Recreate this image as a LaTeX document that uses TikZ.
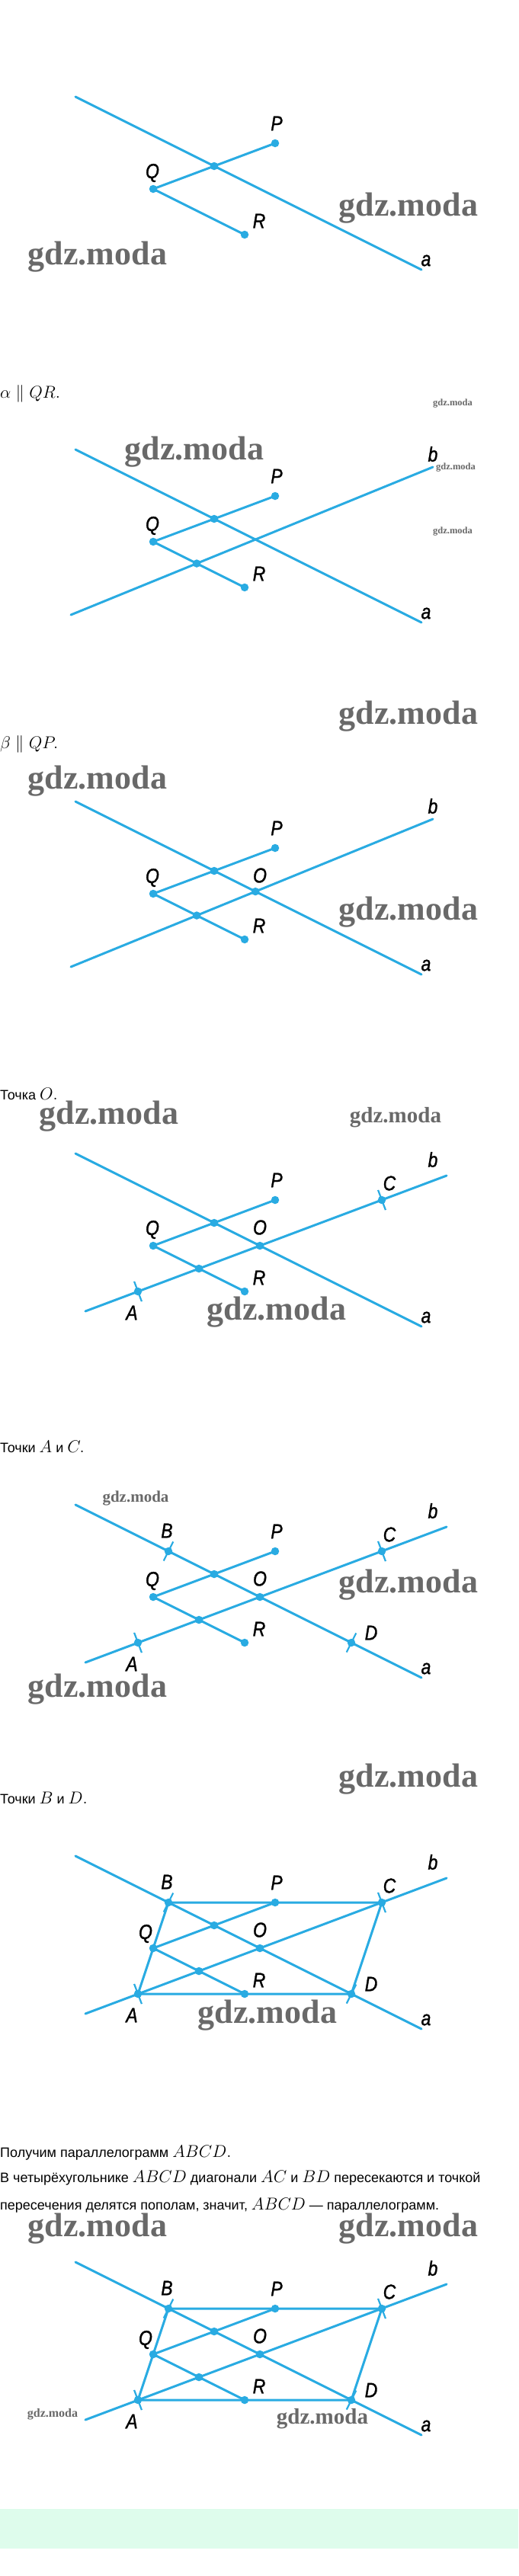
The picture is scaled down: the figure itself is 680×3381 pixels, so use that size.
\documentclass[tikz,border=0pt]{standalone}
\usepackage[no-math]{fontspec}
\setmainfont{Liberation Sans}
\newfontfamily\lblfont{Liberation Sans}[FakeStretch=0.85, FakeBold=1.2]
\newfontfamily\wmfont{Liberation Serif}
\usepackage{tikz}
\usetikzlibrary{calc}

\definecolor{lineblue}{RGB}{41,171,226}
\definecolor{mintband}{RGB}{222,252,236}
\definecolor{wmgray}{RGB}{105,105,105}

\tikzstyle{ln} = [draw=lineblue, line width=3pt, line cap=round]
\tikzstyle{tickmark} = [draw=lineblue, line width=2.2pt]
\tikzstyle{dot} = [circle, fill=lineblue, inner sep=0pt, minimum size=10.5pt]
\tikzstyle{lbl} = [inner sep=0pt, font=\lblfont\itshape\fontsize{27}{27}\selectfont]
\tikzstyle{txt} = [anchor=base west, inner sep=0pt, font=\fontsize{18}{22}\selectfont]
\tikzstyle{wm} = [inner sep=0pt, text=wmgray, font=\wmfont\bfseries\fontsize{44}{44}\selectfont]
\tikzstyle{wmsmall} = [wm, font=\wmfont\bfseries\fontsize{12.5}{12.5}\selectfont]

\newcommand{\mth}[1]{\scalebox{1.09}{\fontsize{20.74}{24}\selectfont$#1$}}
\newcommand{\figpoints}{%
  \coordinate (A) at (181,308);
  \coordinate (B) at (221,188);
  \coordinate (C) at (501,188);
  \coordinate (D) at (461,308);
  \coordinate (Q) at (201,248);
  \coordinate (P) at (361,188);
  \coordinate (R) at (321,308);
  \coordinate (a1) at (99,127);
  \coordinate (a2) at (553,354);
}

\begin{document}
\begin{tikzpicture}[x=1pt, y=-1pt]
\useasboundingbox (0,0) rectangle (680,3381);
\fill [white] (0,0) rectangle (680,3381);

% step 1
\begin{scope}
\figpoints
\coordinate (E) at (intersection of a1--a2 and Q--P);
\draw [ln] (a1) -- (a2);
\draw [ln] (P) -- (Q) -- (R);
\node [dot] (dP) at (P) {};
\node [dot] (dQ) at (Q) {};
\node [dot] (dR) at (R) {};
\node [dot] (dE) at (E) {};
\node [lbl] (lP) at (363,162) {P};
\node [lbl] (lQ) at (200,227) {Q};
\node [lbl] (lR) at (340,290) {R};
\node [lbl] (la) at (559,342) {a};
\end{scope}

% step 2
\begin{scope}[shift={(0,463)}]
\figpoints
\coordinate (b1) at (93,344);
\coordinate (b2) at (568,150);
\coordinate (E) at (intersection of a1--a2 and Q--P);
\coordinate (F) at (intersection of b1--b2 and Q--R);
\draw [ln] (a1) -- (a2);
\draw [ln] (b1) -- (b2);
\draw [ln] (P) -- (Q) -- (R);
\node [dot] (dP) at (P) {};
\node [dot] (dQ) at (Q) {};
\node [dot] (dR) at (R) {};
\node [dot] (dE) at (E) {};
\node [dot] (dF) at (F) {};
\node [lbl] (lP) at (363,162) {P};
\node [lbl] (lQ) at (200,227) {Q};
\node [lbl] (lR) at (340,290) {R};
\node [lbl] (la) at (559,342) {a};
\node [lbl] (lb) at (568,133) {b};
\end{scope}

% step 3
\begin{scope}[shift={(0,925)}]
\figpoints
\coordinate (b1) at (93,344);
\coordinate (b2) at (568,150);
\coordinate (E) at (intersection of a1--a2 and Q--P);
\coordinate (F) at (intersection of b1--b2 and Q--R);
\coordinate (O) at (intersection of a1--a2 and b1--b2);
\draw [ln] (a1) -- (a2);
\draw [ln] (b1) -- (b2);
\draw [ln] (P) -- (Q) -- (R);
\node [dot] (dP) at (P) {};
\node [dot] (dQ) at (Q) {};
\node [dot] (dR) at (R) {};
\node [dot] (dE) at (E) {};
\node [dot] (dF) at (F) {};
\node [dot] (dO) at (O) {};
\node [lbl] (lP) at (363,162) {P};
\node [lbl] (lQ) at (200,227) {Q};
\node [lbl] (lO) at (341,224) {O};
\node [lbl] (lR) at (340,290) {R};
\node [lbl] (la) at (559,342) {a};
\node [lbl] (lb) at (568,133) {b};
\end{scope}

% step 4
\begin{scope}[shift={(0,1387)}]
\figpoints
\coordinate (b1) at (112,334);
\coordinate (b2) at (586,156);
\coordinate (E) at (intersection of a1--a2 and Q--P);
\coordinate (F) at (intersection of b1--b2 and Q--R);
\coordinate (O) at (intersection of a1--a2 and b1--b2);
\draw [ln] (a1) -- (a2);
\draw [ln] (b1) -- (b2);
\draw [ln] (P) -- (Q) -- (R);
\draw [tickmark] ($(A)!14pt!90:(b2)$) -- ($(A)!14pt!-90:(b2)$);
\draw [tickmark] ($(C)!14pt!90:(b2)$) -- ($(C)!14pt!-90:(b2)$);
\node [dot] (dP) at (P) {};
\node [dot] (dQ) at (Q) {};
\node [dot] (dR) at (R) {};
\node [dot] (dE) at (E) {};
\node [dot] (dF) at (F) {};
\node [dot] (dO) at (O) {};
\node [dot] (dA) at (A) {};
\node [dot] (dC) at (C) {};
\node [lbl] (lP) at (363,162) {P};
\node [lbl] (lQ) at (200,227) {Q};
\node [lbl] (lO) at (341,224) {O};
\node [lbl] (lR) at (340,290) {R};
\node [lbl] (lA) at (173,336) {A};
\node [lbl] (lC) at (511,166) {C};
\node [lbl] (la) at (559,342) {a};
\node [lbl] (lb) at (568,135) {b};
\end{scope}

% step 5
\begin{scope}[shift={(0,1848)}]
\figpoints
\coordinate (b1) at (112,334);
\coordinate (b2) at (586,156);
\coordinate (E) at (intersection of a1--a2 and Q--P);
\coordinate (F) at (intersection of b1--b2 and Q--R);
\coordinate (O) at (intersection of a1--a2 and b1--b2);
\draw [ln] (a1) -- (a2);
\draw [ln] (b1) -- (b2);
\draw [ln] (P) -- (Q) -- (R);
\draw [tickmark] ($(A)!14pt!90:(b2)$) -- ($(A)!14pt!-90:(b2)$);
\draw [tickmark] ($(C)!14pt!90:(b2)$) -- ($(C)!14pt!-90:(b2)$);
\draw [tickmark] ($(B)!14pt!90:(a2)$) -- ($(B)!14pt!-90:(a2)$);
\draw [tickmark] ($(D)!14pt!90:(a2)$) -- ($(D)!14pt!-90:(a2)$);
\node [dot] (dP) at (P) {};
\node [dot] (dQ) at (Q) {};
\node [dot] (dR) at (R) {};
\node [dot] (dE) at (E) {};
\node [dot] (dF) at (F) {};
\node [dot] (dO) at (O) {};
\node [dot] (dA) at (A) {};
\node [dot] (dB) at (B) {};
\node [dot] (dC) at (C) {};
\node [dot] (dD) at (D) {};
\node [lbl] (lP) at (363,162) {P};
\node [lbl] (lQ) at (200,227) {Q};
\node [lbl] (lO) at (341,224) {O};
\node [lbl] (lR) at (340,290) {R};
\node [lbl] (lA) at (173,336) {A};
\node [lbl] (lB) at (219,161) {B};
\node [lbl] (lC) at (511,166) {C};
\node [lbl] (lD) at (487,295) {D};
\node [lbl] (la) at (559,342) {a};
\node [lbl] (lb) at (568,135) {b};
\end{scope}

% step 6 and 7
\foreach \dy in {2309,2842}{
\begin{scope}[shift={(0,\dy)}]
\figpoints
\coordinate (b1) at (112,334);
\coordinate (b2) at (586,156);
\coordinate (E) at (intersection of a1--a2 and Q--P);
\coordinate (F) at (intersection of b1--b2 and Q--R);
\coordinate (O) at (intersection of a1--a2 and b1--b2);
\draw [ln] (a1) -- (a2);
\draw [ln] (b1) -- (b2);
\draw [ln] (P) -- (Q) -- (R);
\draw [ln] (A) -- (B) -- (C) -- (D) -- cycle;
\draw [tickmark] ($(A)!14pt!90:(b2)$) -- ($(A)!14pt!-90:(b2)$);
\draw [tickmark] ($(C)!14pt!90:(b2)$) -- ($(C)!14pt!-90:(b2)$);
\draw [tickmark] ($(B)!14pt!90:(a2)$) -- ($(B)!14pt!-90:(a2)$);
\draw [tickmark] ($(D)!14pt!90:(a2)$) -- ($(D)!14pt!-90:(a2)$);
\node [dot] (dP) at (P) {};
\node [dot] (dQ) at (Q) {};
\node [dot] (dR) at (R) {};
\node [dot] (dE) at (E) {};
\node [dot] (dF) at (F) {};
\node [dot] (dO) at (O) {};
\node [dot] (dA) at (A) {};
\node [dot] (dB) at (B) {};
\node [dot] (dC) at (C) {};
\node [dot] (dD) at (D) {};
\node [lbl] (lP) at (363,162) {P};
\node [lbl] (lQ) at (191,229) {Q};
\node [lbl] (lO) at (341,224) {O};
\node [lbl] (lR) at (340,290) {R};
\node [lbl] (lA) at (173,336) {A};
\node [lbl] (lB) at (219,161) {B};
\node [lbl] (lC) at (511,166) {C};
\node [lbl] (lD) at (487,295) {D};
\node [lbl] (la) at (559,342) {a};
\node [lbl] (lb) at (568,135) {b};
\end{scope}
}

\node [txt] (t1) at (0,522) {\mth{\alpha \parallel QR.}};
\node [txt] (t2) at (0,982) {\mth{\beta \parallel QP.}};
\node [txt] (t3) at (0,1443) {Точка \mth{O.}};
\node [txt] (t4) at (0,1906) {Точки \mth{A} и \mth{C.}};
\node [txt] (t5) at (0,2367) {Точки \mth{B} и \mth{D.}};
\node [txt] (t6) at (0,2831) {Получим параллелограмм \mth{ABCD.}};
\node [txt] (t7) at (0,2864) {В четырёхугольнике \mth{ABCD} диагонали \mth{AC} и \mth{BD} пересекаются и точкой};
\node [txt] (t8) at (0,2900) {пересечения делятся пополам, значит, \mth{ABCD} — параллелограмм.};

\node [wm] (w1) at (536,273) {gdz.moda};
\node [wm] (w2) at (128,337) {gdz.moda};
\node [wm] (w3) at (255,593) {gdz.moda};
\node [wm] (w4) at (536,940) {gdz.moda};
\node [wm] (w5) at (128,1025) {gdz.moda};
\node [wm] (w6) at (536,1197) {gdz.moda};
\node [wm] (w7) at (143,1465) {gdz.moda};
\node [wm] (w8) at (363,1722) {gdz.moda};
\node [wm] (w9) at (536,2080) {gdz.moda};
\node [wm] (w10) at (128,2217) {gdz.moda};
\node [wm] (w11) at (536,2335) {gdz.moda};
\node [wm] (w12) at (351,2645) {gdz.moda};
\node [wm] (w13) at (128,2925) {gdz.moda};
\node [wm] (w14) at (536,2925) {gdz.moda};
\node [wmsmall] (w15) at (594,530) {gdz.moda};
\node [wmsmall] (w16) at (598,614) {gdz.moda};
\node [wmsmall] (w17) at (594,698) {gdz.moda};
\node [wm, font=\wmfont\bfseries\fontsize{29}{29}\selectfont] (w18) at (519,1467) {gdz.moda};
\node [wm, font=\wmfont\bfseries\fontsize{29}{29}\selectfont] (w19) at (423,3175) {gdz.moda};
\node [wm, font=\wmfont\bfseries\fontsize{21}{21}\selectfont] (w20) at (178,1967) {gdz.moda};
\node [wm, font=\wmfont\bfseries\fontsize{16}{16}\selectfont] (w21) at (69,3169) {gdz.moda};

\fill [mintband] (0,3293) rectangle (680,3345);
\end{tikzpicture}
\end{document}
